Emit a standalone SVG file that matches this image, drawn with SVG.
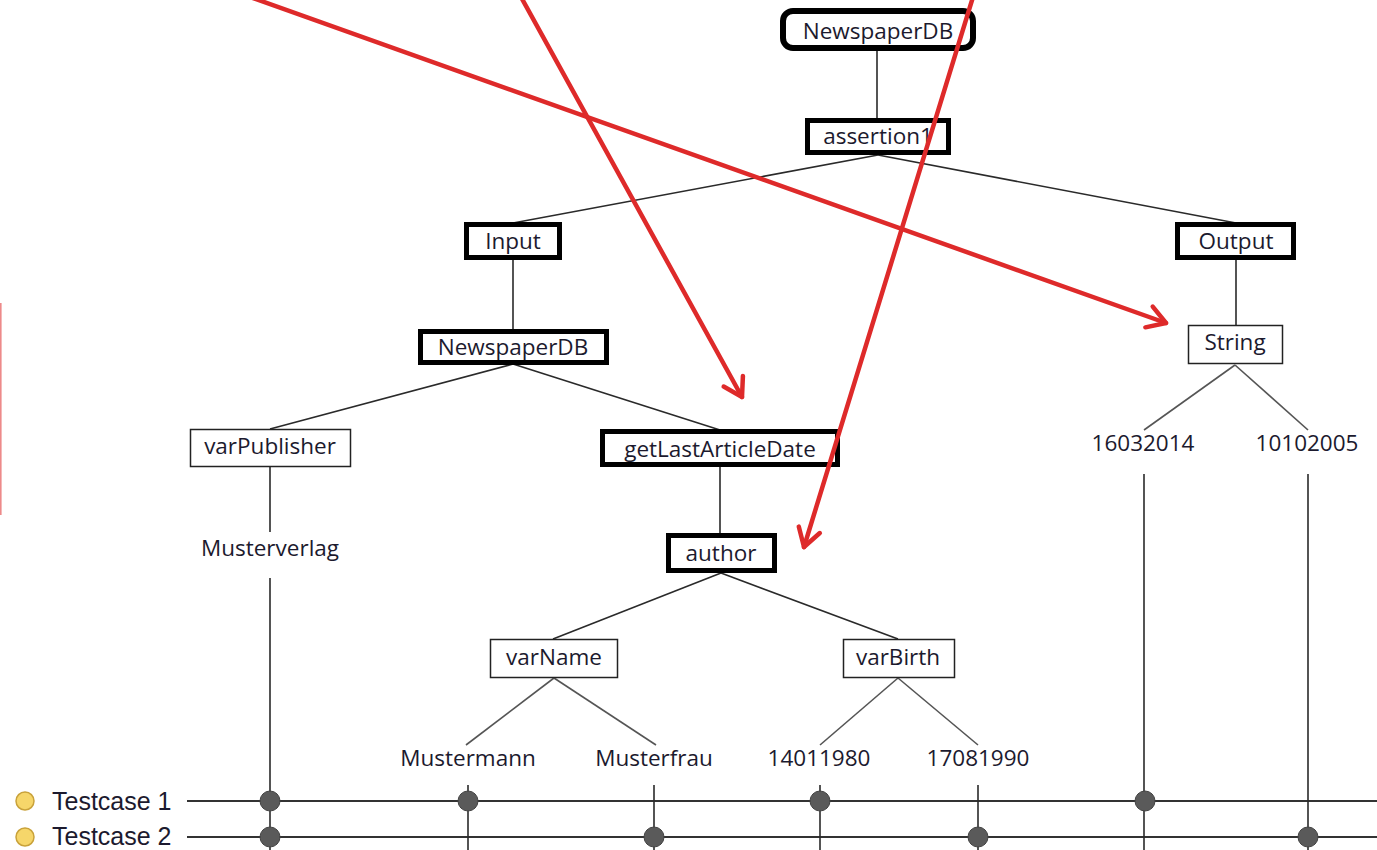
<svg xmlns="http://www.w3.org/2000/svg" width="1377" height="850" viewBox="0 0 1377 850">
<style>
.t{font-family:"Open Sans","DejaVu Sans",sans-serif;font-size:22.5px;fill:#1c1a2e;text-anchor:middle}
.tc{font-family:"Liberation Sans",Arial,sans-serif;font-size:25px;fill:#1c1a2e}
.thick{fill:#fff;stroke:#000;stroke-width:5}
.thin{fill:#fff;stroke:#222;stroke-width:1.5}
.edge{stroke:#2a2a2a;stroke-width:1.6;fill:none}
.leaf{stroke:#555;stroke-width:1.6;fill:none}
.row{stroke:#333;stroke-width:2.2;fill:none}
.dot{fill:#5a5a5a;stroke:#444;stroke-width:1}
.red{stroke:#de2a2a;stroke-width:4.5;fill:none;stroke-linecap:round}
</style>
<defs>
<marker id="ah" markerUnits="userSpaceOnUse" markerWidth="40" markerHeight="40" viewBox="-30 -20 40 40" refX="0" refY="0" orient="auto">
<path d="M-18,-11 L0,0 L-18,11" stroke="#de2a2a" stroke-width="4.5" fill="none" stroke-linecap="round" stroke-linejoin="round"/>
</marker>
</defs>
<rect width="1377" height="850" fill="#fff"/>
<g id="connectors">
<line class="edge" x1="877" y1="48" x2="877" y2="120"/>
<line class="edge" x1="878" y1="155" x2="513" y2="223"/>
<line class="edge" x1="878" y1="155" x2="1236" y2="223"/>
<line class="edge" x1="513" y1="258" x2="513" y2="331"/>
<line class="edge" x1="1236" y1="258" x2="1236" y2="325"/>
<line class="edge" x1="513" y1="364" x2="270" y2="429"/>
<line class="edge" x1="513" y1="364" x2="720" y2="430"/>
<line class="edge" x1="270" y1="467" x2="270" y2="532"/>
<line class="edge" x1="720" y1="466" x2="720" y2="535"/>
<line class="edge" x1="721" y1="573" x2="553" y2="639"/>
<line class="edge" x1="721" y1="573" x2="898" y2="639"/>
<line class="leaf" x1="1235" y1="365" x2="1144" y2="430"/>
<line class="leaf" x1="1235" y1="365" x2="1308" y2="430"/>
<line class="leaf" x1="554" y1="678" x2="466" y2="745"/>
<line class="leaf" x1="554" y1="678" x2="656" y2="745"/>
<line class="leaf" x1="898" y1="678" x2="820" y2="745"/>
<line class="leaf" x1="898" y1="678" x2="978" y2="745"/>
<line class="row" x1="187" y1="801" x2="1377" y2="801"/>
<line class="row" x1="187" y1="837" x2="1377" y2="837"/>
<line class="edge" x1="270" y1="578" x2="270" y2="850"/>
<line class="edge" x1="468" y1="785" x2="468" y2="850"/>
<line class="edge" x1="654" y1="785" x2="654" y2="850"/>
<line class="edge" x1="820" y1="785" x2="820" y2="850"/>
<line class="edge" x1="978" y1="785" x2="978" y2="850"/>
<line class="edge" x1="1144" y1="474" x2="1144" y2="850"/>
<line class="edge" x1="1308" y1="474" x2="1308" y2="850"/>
</g>
<g id="n-newspaperdb-root"><rect class="thick" x="783" y="11" width="190" height="37" rx="10" style="stroke-width:6"/><text class="t" x="878" y="39">NewspaperDB</text></g>
<g id="n-assertion1"><rect class="thick" x="807.5" y="120.5" width="141" height="32"/><text class="t" x="878" y="144">assertion1</text></g>
<g id="n-input"><rect class="thick" x="466.5" y="224.5" width="93" height="33"/><text class="t" x="513" y="249">Input</text></g>
<g id="n-output"><rect class="thick" x="1177.5" y="224.5" width="116" height="33"/><text class="t" x="1236" y="249">Output</text></g>
<g id="n-newspaperdb"><rect class="thick" x="420.5" y="331.5" width="186" height="31"/><text class="t" x="513" y="355">NewspaperDB</text></g>
<g id="n-string"><rect class="thin" x="1188.5" y="325.5" width="94" height="38"/><text class="t" x="1235" y="350">String</text></g>
<g id="n-varpublisher"><rect class="thin" x="190.5" y="429.5" width="160" height="37"/><text class="t" x="270" y="454">varPublisher</text></g>
<g id="n-getlastarticledate"><rect class="thick" x="602.5" y="431.5" width="235" height="33"/><text class="t" x="720" y="457">getLastArticleDate</text></g>
<g id="n-author"><rect class="thick" x="668.5" y="535.5" width="106" height="35"/><text class="t" x="721" y="561">author</text></g>
<g id="n-varname"><rect class="thin" x="490.5" y="639.5" width="127" height="38"/><text class="t" x="554" y="665">varName</text></g>
<g id="n-varbirth"><rect class="thin" x="843.5" y="639.5" width="111" height="38"/><text class="t" x="898" y="665">varBirth</text></g>
<g id="n-musterverlag"><text class="t" x="270" y="556">Musterverlag</text></g>
<g id="n-16032014"><text class="t" x="1143" y="451">16032014</text></g>
<g id="n-10102005"><text class="t" x="1307" y="451">10102005</text></g>
<g id="n-mustermann"><text class="t" x="468" y="766">Mustermann</text></g>
<g id="n-musterfrau"><text class="t" x="654" y="766">Musterfrau</text></g>
<g id="n-14011980"><text class="t" x="819" y="766">14011980</text></g>
<g id="n-17081990"><text class="t" x="978" y="766">17081990</text></g>
<g id="testcases">
<circle cx="25" cy="801" r="9" fill="#f6d66a" stroke="#c9a23a" stroke-width="1.5"/>
<text class="tc" x="52" y="810">Testcase 1</text>
<circle cx="25" cy="837" r="9" fill="#f6d66a" stroke="#c9a23a" stroke-width="1.5"/>
<text class="tc" x="52" y="845">Testcase 2</text>
<circle class="dot" cx="270" cy="801" r="10"/>
<circle class="dot" cx="468" cy="801" r="10"/>
<circle class="dot" cx="820" cy="801" r="10"/>
<circle class="dot" cx="1145" cy="801" r="10"/>
<circle class="dot" cx="270" cy="837" r="10"/>
<circle class="dot" cx="654" cy="837" r="10"/>
<circle class="dot" cx="978" cy="837" r="10"/>
<circle class="dot" cx="1308" cy="837" r="10"/>
</g>
<g id="annotations">
<line class="red" x1="250" y1="-3" x2="1166" y2="323" marker-end="url(#ah)"/>
<line class="red" x1="521" y1="-3" x2="742" y2="397" marker-end="url(#ah)"/>
<line class="red" x1="973" y1="-3" x2="804" y2="547" marker-end="url(#ah)"/>
<rect x="0" y="303" width="1.6" height="212" fill="#de2a2a" opacity="0.55"/>
</g>
</svg>
